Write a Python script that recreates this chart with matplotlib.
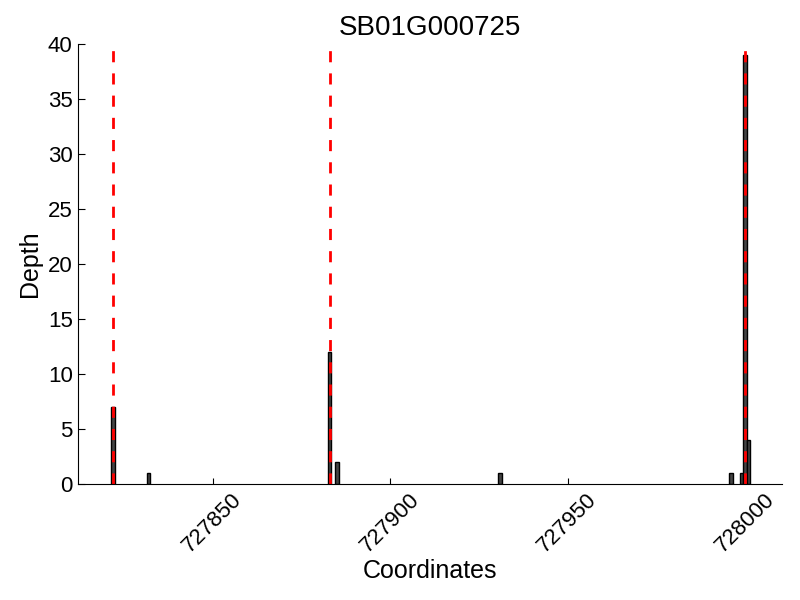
import matplotlib
matplotlib.use('Agg')
import matplotlib.pyplot as plt

''' depth of reads per coordinate for one gene, with the peak sites marked '''
gene_name = 'SB01G000725'
coords = [727822, 727832, 727883, 727885, 727931, 727996, 727999, 728000, 728001]
depth = [7, 1, 12, 2, 1, 1, 1, 39, 4]
peak_sites = [727822, 727883, 728000]
x_ticks = [727850, 727900, 727950, 728000]

plt.rcParams['font.family'] = ['Liberation Sans', 'DejaVu Sans']

fig = plt.figure(figsize=(8, 6), dpi=100)
ax = fig.add_axes([0.097, 0.193, 0.881, 0.734])
ax.bar(coords, depth, width=1, color='#444444', edgecolor='black', linewidth=1, align='center')
for site in peak_sites:
    ax.axvline(site, color='red', linestyle='--', linewidth=2, dashes=(4, 4))

ax.set_xlim(727812, 728010.5)
ax.set_ylim(0, 40)
ax.set_xticks(x_ticks)
ax.set_xticklabels([str(t) for t in x_ticks], rotation=45, fontsize=16)
ax.tick_params(axis='y', labelsize=16, direction='in', length=5)
ax.tick_params(axis='x', direction='in', length=4)
ax.spines['top'].set_visible(False)
ax.spines['right'].set_visible(False)
ax.set_xlabel('Coordinates', fontsize=18, labelpad=2)
ax.set_ylabel('Depth', fontsize=18)
ax.set_title(gene_name, fontsize=20)

plt.savefig('out.png')
